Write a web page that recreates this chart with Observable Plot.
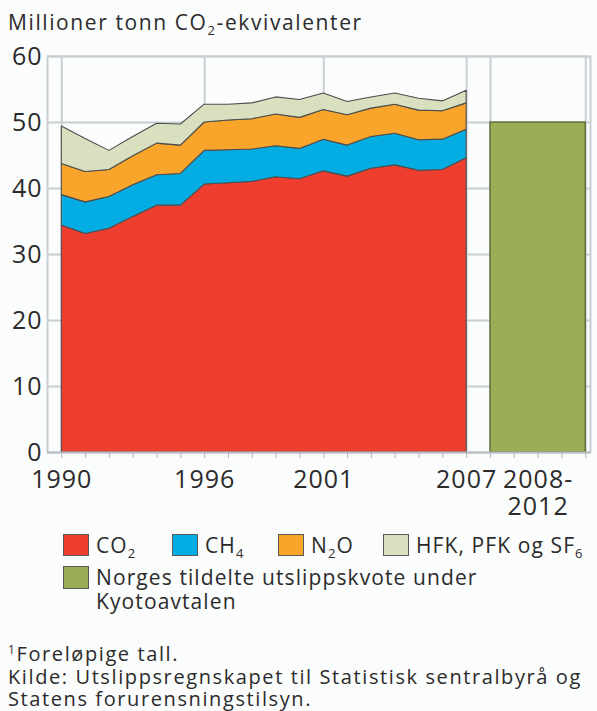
<!DOCTYPE html>
<html><head><meta charset="utf-8">
<script src="https://cdn.jsdelivr.net/npm/d3@7"></script>
<script src="https://cdn.jsdelivr.net/npm/@observablehq/plot@0.6"></script>
<style>
body{margin:0;background:#fbfcfc;font-family:"Open Sans",sans-serif;color:#2b2b2b;width:597px;height:711px;overflow:hidden}
#title{font-size:21px;letter-spacing:1.6px;height:40px;line-height:44px;padding-left:8px;white-space:nowrap}
sub{font-size:0.62em;vertical-align:-0.35em;line-height:0}
#legend{margin-top:16px;font-size:21px;letter-spacing:1.1px;line-height:24px}
.row{display:flex;align-items:flex-start;padding-left:63px;white-space:nowrap}
.item{display:flex;align-items:center}
.sw{width:26px;height:22px;border:1px solid #5a5a5a;box-sizing:border-box;margin-right:7px;flex:none}
#row2{margin-top:8px}
#row2 .sw{margin-top:1px;height:23px}
#notes{margin-top:30px;padding-left:8px;font-size:20px;letter-spacing:1.6px;line-height:22.5px;white-space:nowrap}
#notes sup{font-size:0.6em;vertical-align:0.6em;line-height:0}
#chart svg text{letter-spacing:1px}
</style></head><body>
<div id="title">Millioner tonn CO<sub>2</sub>-ekvivalenter</div>
<div id="chart"></div>
<div id="legend"></div>
<div id="notes"><div><sup>1</sup>Foreløpige tall.</div><div>Kilde: Utslippsregnskapet til Statistisk sentralbyrå og</div><div>Statens forurensningstilsyn.</div></div>
<script>
const years = [1990,1991,1992,1993,1994,1995,1996,1997,1998,1999,2000,2001,2002,2003,2004,2005,2006,2007];
const co2 = [34.4,33.1,33.9,35.7,37.4,37.4,40.6,40.8,41.0,41.7,41.4,42.6,41.8,43.0,43.5,42.7,42.8,44.6];
const ch4 = [4.6,4.8,4.8,4.8,4.6,4.8,5.1,5.0,4.9,4.7,4.6,4.8,4.7,4.8,4.8,4.6,4.6,4.3];
const n2o = [4.7,4.6,4.1,4.4,4.8,4.3,4.3,4.5,4.6,4.8,4.7,4.5,4.6,4.3,4.4,4.5,4.3,4.0];
const hfk = [5.7,5.0,2.9,2.9,3.0,3.2,2.7,2.4,2.4,2.6,2.7,2.5,2.0,1.7,1.7,1.8,1.5,1.9];
const gasNames = ["CO₂","CH₄","N₂O","HFK, PFK og SF₆"];
const gasLabelsHtml = ["CO<sub>2</sub>","CH<sub>4</sub>","N<sub>2</sub>O","HFK, PFK og SF<sub>6</sub>"];
const gasColors = ["#ee3e2f","#03ade4","#f9a42b","#d8e0c0"];
const kyotoLabel = "2008-\n2012";
const kyotoStart = 2008, kyotoEnd = 2012;
const kyotoValue = 50;
const kyotoColor = "#9aae55";
const kyotoLegend = "Norges tildelte utslippskvote under<br>Kyotoavtalen";
const yTicks = [0,10,20,30,40,50,60];
const xLabelYears = [1990,1996,2001,2007];
const xGridYears = [1990,1996,2001,2007,2008,2012];

const series = [co2, ch4, n2o, hfk];
const tidy = [];
series.forEach((vals, gi) => vals.forEach((v, i) => tidy.push({year: years[i], gas: gasNames[gi], value: v})));

const grid = "#c9ced3";
const kyotoMid = (kyotoStart + kyotoEnd) / 2;
const chart = Plot.plot({
  width: 597, height: 477,
  marginTop: 16, marginLeft: 47, marginRight: 7, marginBottom: 65,
  style: {fontFamily: "Open Sans", color: "#2b2b2b", background: "transparent", overflow: "visible"},
  x: {domain: [1989.4, 2012.2], axis: null},
  y: {domain: [0, 60], axis: null},
  color: {domain: gasNames, range: gasColors},
  marks: [
    Plot.ruleY(yTicks.filter(d => d > 0), {stroke: grid, strokeWidth: 2}),
    Plot.ruleX(xGridYears, {stroke: grid, strokeWidth: 2}),
    Plot.frame({stroke: grid, strokeWidth: 2}),
    Plot.areaY(tidy, {x: "year", y: "value", z: "gas", fill: "gas", stroke: "#4d4d4d", strokeWidth: 1.1}),
    Plot.rectY([{a: kyotoStart, b: kyotoEnd, v: kyotoValue}], {x1: "a", x2: "b", y: "v", fill: kyotoColor, stroke: "#4f5d2c", strokeWidth: 1.2}),
    Plot.ruleY([0], {stroke: "#b9bec3", strokeWidth: 2}),
    Plot.axisY({ticks: yTicks, tickSize: 0, tickPadding: 5, fontSize: 25, fill: "#2b2b2b"}),
    Plot.axisX({ticks: d3.range(1990, 2013), tickSize: 6, tickFormat: () => "", stroke: "#b0b5ba"}),
    Plot.axisX({ticks: [...xLabelYears, kyotoMid], tickSize: 0, tickPadding: 16, fontSize: 25, lineHeight: 1.08, fill: "#2b2b2b",
      tickFormat: d => d === kyotoMid ? kyotoLabel : String(d)})
  ]
});
document.getElementById("chart").appendChild(chart);

const widths = [109, 106, 105, null];
const leg = document.getElementById("legend");
let html = '<div class="row">';
gasLabelsHtml.forEach((t, i) => {
  html += `<div class="item" style="${widths[i] ? "width:" + widths[i] + "px" : ""}"><span class="sw" style="background:${gasColors[i]}"></span><span>${t}</span></div>`;
});
html += '</div><div class="row" id="row2"><span class="sw" style="background:' + kyotoColor + '"></span><span>' + kyotoLegend + '</span></div>';
leg.innerHTML = html;
</script>
</body></html>
